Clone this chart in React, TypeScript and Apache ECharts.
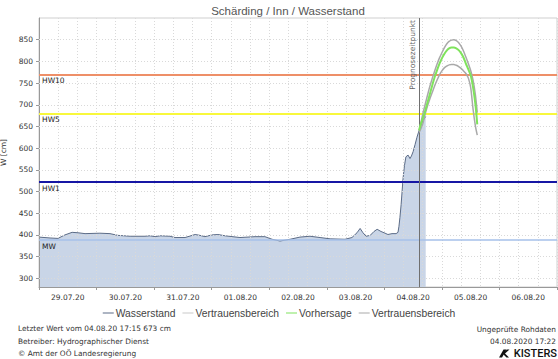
import React, { useEffect, useRef } from 'react';
import * as echarts from 'echarts';

// x values are hours since 29.07.2020 00:00
const dayLabels = ['29.07.20', '30.07.20', '31.07.20', '01.08.20', '02.08.20', '03.08.20', '04.08.20', '05.08.20', '06.08.20'];
const yTicks = [300, 350, 400, 450, 500, 550, 600, 650, 700, 750, 800, 850];

const obsHours = [0, 4.6, 7.9, 10.8, 13.8, 16.3, 19.2, 25.4, 29.6, 32.9, 38, 44.2, 46.3, 48.4, 50.5, 54.6, 56.7, 60.9, 65.1, 67.1, 69.2, 72.1, 74.6, 77.6, 83.8, 90.1, 94.2, 97.2, 100.5, 104.7, 108.8, 113, 117.2, 121.4, 127.6, 130.5, 132.6, 133.9, 135.1, 136.4, 138.1, 139.7, 141, 142.6, 144.3, 145.5, 147.2, 148.9, 149.7, 150.1, 150.5, 151, 151.4, 151.8, 152.4, 153, 153.9, 154.7, 155.3, 156, 156.8, 157.6, 158.5, 159.3, 160.1, 161.25];
const obsValues = [395, 393, 392, 400, 406, 405, 403, 404, 403, 399, 397, 397, 398, 396, 398, 397, 394, 394, 401, 399, 396, 400, 401, 398, 394, 396, 396, 390, 386, 390, 395, 397, 394, 391, 390, 394, 405, 415, 405, 397, 399, 408, 413, 408, 404, 401, 403, 403, 406, 420, 440, 470, 500, 530, 560, 580, 584, 576, 582, 592, 608, 625, 641, 653, 664, 673];

const fcHours = [158.5, 159, 160, 161, 162, 163, 164, 165, 166, 167, 168, 169, 170, 171, 172, 173, 174, 175, 176, 177, 178, 179, 180, 181, 182, 182.75];
const fcValues = [641, 652, 668, 685, 705, 725, 745, 764, 780, 795, 807, 817, 825, 830, 832, 832, 830, 826, 819, 809, 795, 782, 768, 740, 700, 655];
const fcUpper = [641, 652, 678, 700, 722, 743, 761, 778, 794, 808, 820, 831, 840, 846, 849, 850, 848, 843, 835, 824, 810, 795, 779, 757, 722, 682];
const fcLower = [636, 642, 656, 678, 697, 714, 729, 744, 757, 769, 778, 785, 789, 792, 793, 793, 791, 788, 784, 778, 772, 762, 740, 690, 650, 630];

const forecastTime = 158.5;
const thresholdNames = ['HW10', 'HW5', 'HW1', 'MW'];
const thresholdValues = [770, 680, 522, 388];

const FONT = '"DejaVu Sans", Verdana, sans-serif';
const SANS = '"Liberation Sans", Arial, sans-serif';

export default function App() {
  const ref = useRef<HTMLDivElement>(null);
  useEffect(() => {
    if (!ref.current) return;
    const chart = echarts.init(ref.current, undefined, { renderer: 'svg' });
    const hwColors = ['#ee8f68', '#f8f83c', '#1616a4', '#a6c0ea'];
    const hwWidths = [2, 2, 2, 1.5];
    const gridLine = { color: '#d9d9d9', type: [1, 2] as any, width: 1 };
    const option: any = {
      animation: false,
      grid: {
        left: 39, right: 1, top: 18, bottom: 72, show: true, borderColor: '#cfcfcf', borderWidth: 1,
        containLabel: false, outerBoundsMode: 'none',
      },
      legend: {
        left: 'center',
        top: 303,
        icon: 'rect',
        itemWidth: 11,
        itemHeight: 1,
        itemGap: 7,
        textStyle: { fontFamily: SANS, fontSize: 10.3, color: '#444', padding: [0, 0, 0, -3] },
        data: ['Wasserstand', 'Vertrauensbereich_1', 'Vorhersage', 'Vertrauensbereich_2'],
        formatter: (n: string) => n.split('_')[0],
      },
      xAxis: [
        {
          type: 'value', min: 0, max: 216, interval: 8, position: 'bottom', z: 3,
          axisLine: { show: false }, axisTick: { show: false }, axisLabel: { show: false },
          splitLine: { show: true, lineStyle: gridLine },
        },
        {
          type: 'category', data: dayLabels, boundaryGap: true, position: 'bottom', z: 4,
          axisLine: { show: true, lineStyle: { color: '#999' } },
          axisTick: { show: true, length: 3, lineStyle: { color: '#999' } },
          axisLabel: { fontFamily: FONT, fontSize: 7.5, color: '#333', margin: 6 },
          splitLine: { show: false },
        },
      ],
      yAxis: {
        type: 'value', min: 280, max: 900, z: 4,
        name: 'W [cm]', nameLocation: 'middle', nameGap: 27, nameRotate: 90,
        nameTextStyle: { fontFamily: FONT, fontSize: 7.5, color: '#333' },
        axisLine: { show: true, lineStyle: { color: '#999' } },
        axisTick: { show: true, length: 3, customValues: yTicks, lineStyle: { color: '#999' } },
        axisLabel: { customValues: yTicks, fontFamily: FONT, fontSize: 7.5, color: '#333', margin: 6 },
        splitLine: { show: false },
      },
      series: [
        {
          name: 'Wasserstand', type: 'line', xAxisIndex: 0, z: 2,
          data: obsHours.map((h, i) => [h, obsValues[i]]),
          symbol: 'none', showSymbol: false,
          lineStyle: { color: '#5b6b86', width: 1 },
          itemStyle: { color: '#5b6b86' },
          areaStyle: { color: '#c9d5e7', opacity: 1, origin: 'start' },
        },
        {
          name: 'Vertrauensbereich_1', type: 'line', xAxisIndex: 0, data: [],
          itemStyle: { color: '#c8c8c8' }, lineStyle: { color: '#c8c8c8' },
        },
        {
          name: '_grid', type: 'line', xAxisIndex: 0, data: [], z: 3, silent: true,
          markLine: {
            silent: true, symbol: ['none', 'none'], label: { show: false },
            lineStyle: gridLine,
            data: yTicks.map((v) => ({ yAxis: v })),
          },
        },
        {
          name: '_hw', type: 'line', xAxisIndex: 0, data: [], z: 4, silent: true,
          markLine: {
            silent: true, symbol: ['none', 'none'],
            data: thresholdValues.map((v, i) => ({
              yAxis: v, name: thresholdNames[i],
              lineStyle: { color: hwColors[i], width: hwWidths[i], type: 'solid' },
              label: {
                show: true, position: 'insideStartBottom', formatter: '{b}', distance: [3, 2],
                fontFamily: FONT, fontSize: 7.5, color: '#222',
              },
            })),
          },
        },
        {
          name: 'Vertrauensbereich_2', type: 'line', xAxisIndex: 0, z: 5, smooth: 0.3,
          data: fcHours.map((h, i) => [h, fcUpper[i]]), symbol: 'none',
          lineStyle: { color: '#a9a9a9', width: 1.5 }, itemStyle: { color: '#a9a9a9' },
        },
        {
          name: 'Vertrauensbereich_2', type: 'line', xAxisIndex: 0, z: 5, smooth: 0.3,
          data: fcHours.map((h, i) => [h, fcLower[i]]), symbol: 'none',
          lineStyle: { color: '#a9a9a9', width: 1.5 }, itemStyle: { color: '#a9a9a9' },
        },
        {
          name: 'Vorhersage', type: 'line', xAxisIndex: 0, z: 6, smooth: 0.3,
          data: fcHours.map((h, i) => [h, fcValues[i]]), symbol: 'none',
          lineStyle: { color: '#7fe35c', width: 2 }, itemStyle: { color: '#7fe35c' },
        },
        {
          name: '_prog', type: 'line', xAxisIndex: 0, data: [], z: 7, silent: true,
          markLine: {
            silent: true, symbol: ['none', 'none'],
            lineStyle: { color: '#707070', width: 1, type: 'solid' },
            label: {
              show: true, position: 'insideEndTop', formatter: 'Prognosezeitpunkt',
              fontFamily: FONT, fontSize: 7.5, color: '#666', distance: [2, 3],
            },
            data: [{ xAxis: forecastTime }],
          },
        },
      ],
      graphic: [
        { type: 'text', style: { text: 'Schärding / Inn / Wasserstand', x: 288, y: 11, textAlign: 'center', textVerticalAlign: 'middle', fontFamily: SANS, fontSize: 11.5, fill: '#555' } },
        { type: 'text', style: { text: 'Letzter Wert vom 04.08.20 17:15 673 cm', x: 18, y: 328, textVerticalAlign: 'middle', fontFamily: FONT, fontSize: 7.4, fill: '#333' } },
        { type: 'text', style: { text: 'Betreiber: Hydrographischer Dienst', x: 18, y: 341, textVerticalAlign: 'middle', fontFamily: FONT, fontSize: 7.4, fill: '#333' } },
        { type: 'text', style: { text: '© Amt der OÖ Landesregierung', x: 18, y: 353, textVerticalAlign: 'middle', fontFamily: FONT, fontSize: 7.4, fill: '#333' } },
        { type: 'text', style: { text: 'Ungeprüfte Rohdaten', x: 556, y: 329, textAlign: 'right', textVerticalAlign: 'middle', fontFamily: FONT, fontSize: 7.4, fill: '#333' } },
        { type: 'text', style: { text: '04.08.2020 17:22', x: 556, y: 341, textAlign: 'right', textVerticalAlign: 'middle', fontFamily: FONT, fontSize: 7.4, fill: '#333' } },
        { type: 'text', style: { text: 'KISTERS', x: 557, y: 353.5, textAlign: 'right', textVerticalAlign: 'middle', fontFamily: 'Roboto, sans-serif', fontWeight: 500, fontSize: 11, fill: '#111' } },
        { type: 'polygon', shape: { points: [[499, 357.5], [502, 357.5], [506.5, 349.5], [503.5, 349.5]] }, style: { fill: '#111' } },
        { type: 'polygon', shape: { points: [[502.5, 353.5], [507, 349.5], [509.5, 349.5], [505, 353.5], [509, 357.5], [506.5, 357.5]] }, style: { fill: '#111' } },
      ],
    };
    chart.setOption(option);
    return () => chart.dispose();
  }, []);
  return <div ref={ref} style={{ position: 'fixed', left: 0, top: 0, width: 558, height: 359, background: '#fff' }} />;
}
